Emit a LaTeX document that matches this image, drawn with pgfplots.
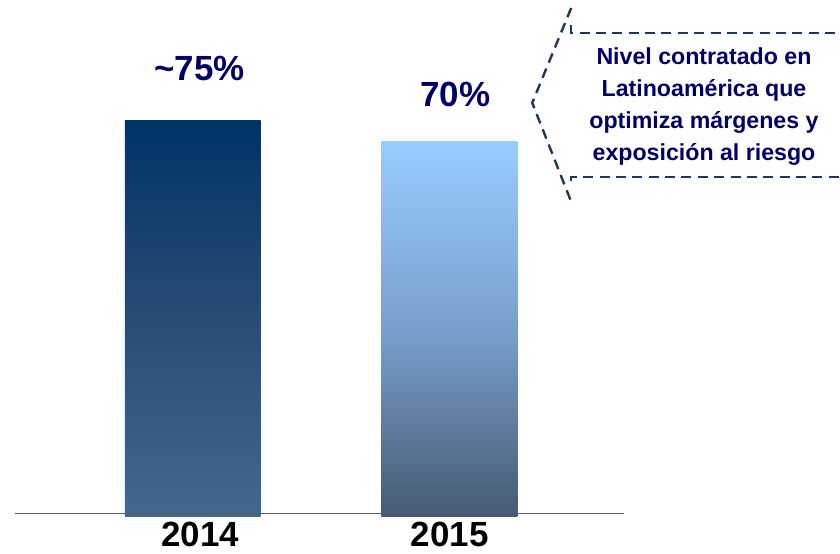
\documentclass[border=0pt]{standalone}
\usepackage{fontspec}
\setmainfont{Liberation Sans}
\usepackage{pgfplots}
\pgfplotsset{compat=1.18}
\definecolor{navytext}{RGB}{0,0,102}
\definecolor{calloutc}{RGB}{28,56,94}
\definecolor{baraTop}{RGB}{0,51,102}
\definecolor{baraMid}{RGB}{40,76,116}
\definecolor{baraBot}{RGB}{67,104,144}
\definecolor{barbTop}{RGB}{153,204,255}
\definecolor{barbMid}{RGB}{120,160,204}
\definecolor{barbBot}{RGB}{70,90,116}
\begin{document}
\begin{tikzpicture}
\begin{scope}[x=0.5pt,y=0.5pt]
\useasboundingbox (0,0) rectangle (840,553);
\end{scope}
\begin{axis}[
  at={(7.5pt,18pt)}, anchor=south west,
  scale only axis, width=305pt, height=237.6pt,
  xmin=15, xmax=625, ymin=0, ymax=90,
  axis line style={draw=none},
  ytick=\empty,
  xtick={200.5,450.5}, xticklabels={2014,2015},
  major tick length=0pt,
  xticklabel style={font=\fontsize{17.5}{20}\selectfont\bfseries, anchor=base, yshift=-15pt},
  clip=false]
\addplot[ybar, bar shift=0pt, bar width=136, draw=none, shading=axis,
  top color=baraTop, bottom color=baraBot, middle color=baraMid] coordinates {(193,75)};
\addplot[ybar, bar shift=0pt, bar width=136, draw=none, shading=axis,
  top color=barbTop, bottom color=barbBot, middle color=barbMid] coordinates {(450,71)};
\draw[line width=0.7pt, black!65] (axis cs:15,0.57) -- (axis cs:625,0.57);
\node[anchor=base, font=\fontsize{17.5}{20}\selectfont\bfseries, text=navytext, inner sep=0pt] at (axis cs:200,82.6) {\textasciitilde 75\%};
\node[anchor=base, font=\fontsize{17.5}{20}\selectfont\bfseries, text=navytext, inner sep=0pt] at (axis cs:456,77.7) {70\%};
\end{axis}
\begin{scope}[x=0.5pt,y=0.5pt]
\draw[calloutc, line width=1.2pt, dash pattern=on 5pt off 3.2pt] (572,545) -- (533,450) -- (572,351);
\draw[calloutc, line width=1.2pt, dash pattern=on 5pt off 3.2pt] (572,528) -- (572,520) -- (840,520);
\draw[calloutc, line width=1.2pt, dash pattern=on 5pt off 3.2pt] (840,376) -- (572,376) -- (572,368);
\begin{scope}[every node/.style={anchor=base, inner sep=0pt, text=navytext, font=\fontsize{11.6}{14}\selectfont\bfseries}]
\node at (705,488) {Nivel contratado en};
\node at (705,456) {Latinoamérica que};
\node at (705,424) {optimiza márgenes y};
\node at (705,392) {exposición al riesgo};
\end{scope}
\end{scope}
\end{tikzpicture}
\end{document}
